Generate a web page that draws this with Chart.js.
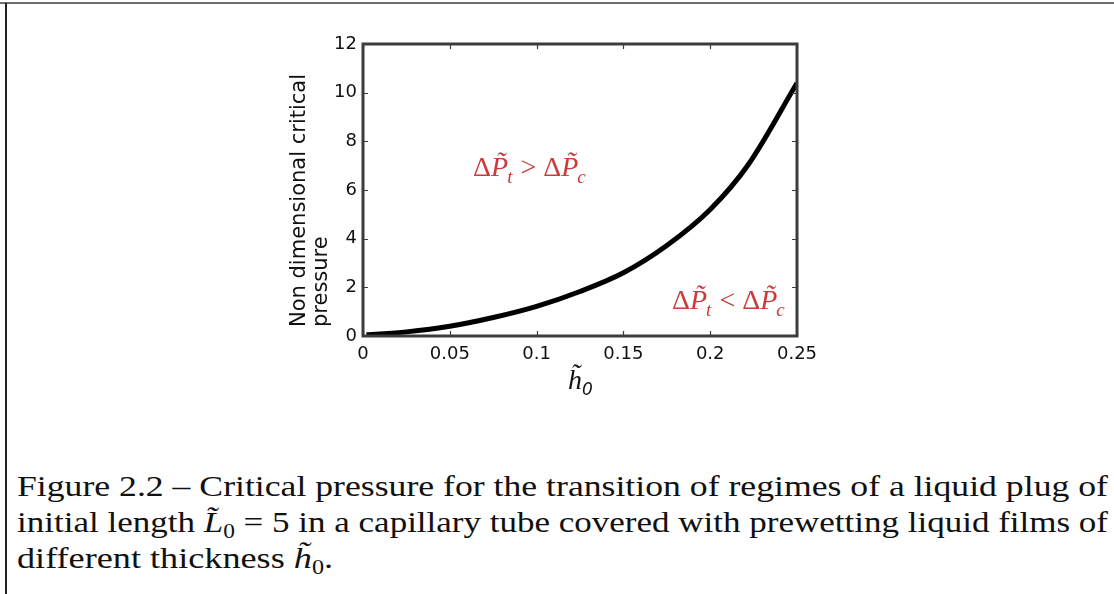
<!DOCTYPE html>
<html>
<head>
<meta charset="utf-8">
<script src="https://cdn.jsdelivr.net/npm/chart.js@4.4.1/dist/chart.umd.min.js"></script>
<style>
  html, body { margin: 0; padding: 0; background: #fff; }
  #page { position: relative; width: 1114px; height: 594px; overflow: hidden; }
  #topline { position: absolute; left: 0; top: 2px; width: 1114px; height: 2px; background: #6e6e6e; }
  #leftline { position: absolute; left: 5px; top: 3px; width: 2px; height: 600px; background: #222; }
  #chartBox { position: absolute; left: 0; top: 0; width: 1114px; height: 440px; }
  .cap { position: absolute; left: 17px; white-space: nowrap; transform-origin: 0 0;
         font-family: "Liberation Serif", serif; font-size: 30px; color: #111; }
  .cap i { font-style: italic; }
  .cap sub { font-size: 20px; vertical-align: -6px; line-height: 0; }
</style>
</head>
<body>
<div id="page">
  <div id="topline"></div>
  <div id="leftline"></div>
  <div id="chartBox"><canvas id="pressureChart" width="1114" height="440"></canvas></div>
  <div class="cap" id="cap1" style="top:469px">Figure 2.2 – Critical pressure for the transition of regimes of a liquid plug of</div>
  <div class="cap" id="cap2" style="top:505px">initial length <i>L&#771;</i><sub>0</sub> = 5 in a capillary tube covered with prewetting liquid films of</div>
  <div class="cap" id="cap3" style="top:541px">different thickness <i>h&#771;</i><sub>0</sub>.</div>
</div>
<script>
// --- DATA ---
const hValues = [0.002, 0.025, 0.05, 0.075, 0.1, 0.125, 0.15, 0.175, 0.2, 0.222, 0.25];
const pValues = [0.05, 0.17, 0.40, 0.76, 1.22, 1.83, 2.6, 3.72, 5.2, 7.05, 10.4];
const xTickLabels = ["0", "0.05", "0.1", "0.15", "0.2", "0.25"];
const yTickLabels = ["0", "2", "4", "6", "8", "10", "12"];
const yTitleLines = ["Non dimensional critical", "pressure"];
// annotation anchors (left edge, baseline) in data units
const regionUpper = { h: 0.0634, p: 6.58, op: ">" };
const regionLower = { h: 0.178, p: 1.11, op: "<" };

const RED = "#cc3b3b";
const FRAME = "#3c3c3c";

// draw a row of text runs
function drawRuns(ctx, x, y, runs) {
  let cx = x;
  runs.forEach((r) => {
    ctx.font = r.font;
    ctx.fillText(r.text, cx, y + (r.dy || 0));
    cx += ctx.measureText(r.text).width + (r.gap || 0);
  });
}

function regionRuns(op) {
  const big = "28px 'Liberation Serif', serif";
  const it = "italic 28px 'Liberation Serif', serif";
  const sub = "italic 19px 'Liberation Serif', serif";
  return [
    { text: "\u0394", font: big },
    { text: "P\u0303", font: it, gap: -1 },
    { text: "t", font: sub, dy: 7, gap: 8 },
    { text: op, font: big, gap: 7 },
    { text: "\u0394", font: big },
    { text: "P\u0303", font: it, gap: -1 },
    { text: "c", font: sub, dy: 7 },
  ];
}

const frameAndText = {
  id: "frameAndText",
  afterDatasetsDraw(chart) {
    const { ctx, chartArea: a, scales } = chart;
    const xs = scales.x, ys = scales.y;
    ctx.save();
    // inward ticks on all four sides
    ctx.strokeStyle = FRAME;
    ctx.lineWidth = 1.2;
    ctx.beginPath();
    xs.ticks.forEach((t) => {
      const px = Math.round(xs.getPixelForValue(t.value)) + 0.5;
      ctx.moveTo(px, a.bottom); ctx.lineTo(px, a.bottom - 5);
      ctx.moveTo(px, a.top); ctx.lineTo(px, a.top + 5);
    });
    ys.ticks.forEach((t) => {
      const py = Math.round(ys.getPixelForValue(t.value)) + 0.5;
      ctx.moveTo(a.left, py); ctx.lineTo(a.left + 5, py);
      ctx.moveTo(a.right, py); ctx.lineTo(a.right - 5, py);
    });
    ctx.stroke();
    // axes box
    ctx.lineWidth = 3;
    ctx.strokeRect(a.left, a.top, a.right - a.left, a.bottom - a.top);

    // y title, two lines, left aligned along the axis
    ctx.fillStyle = "#111";
    ctx.save();
    ctx.translate(305, ys.getPixelForValue(0) - 9);
    ctx.rotate(-Math.PI / 2);
    ctx.font = "21px 'DejaVu Sans', sans-serif";
    ctx.textAlign = "left";
    ctx.textBaseline = "alphabetic";
    ctx.fillText(yTitleLines[0], 0, 0);
    ctx.fillText(yTitleLines[1], 0, 22);
    ctx.restore();

    // x title h~0
    const cx = (a.left + a.right) / 2;
    ctx.textAlign = "left";
    ctx.font = "italic 28px 'Liberation Serif', serif";
    ctx.fillText("h\u0303", cx - 12, 389);
    ctx.font = "italic 17px 'DejaVu Sans', sans-serif";
    ctx.fillText("0", cx + 2, 395);

    // region labels
    ctx.fillStyle = RED;
    [regionUpper, regionLower].forEach((r) => {
      drawRuns(ctx, xs.getPixelForValue(r.h), ys.getPixelForValue(r.p), regionRuns(r.op));
    });
    ctx.restore();
  },
};

const ctx = document.getElementById("pressureChart").getContext("2d");
new Chart(ctx, {
  type: "line",
  data: {
    datasets: [
      {
        data: hValues.map((h, i) => ({ x: h, y: pValues[i] })),
        borderColor: "#000",
        borderWidth: 5,
        pointRadius: 0,
        cubicInterpolationMode: "monotone",
        fill: false,
      },
    ],
  },
  options: {
    responsive: false,
    animation: false,
    layout: { padding: { left: 0, right: 317, top: 44, bottom: 0 } },
    plugins: { legend: { display: false }, tooltip: { enabled: false } },
    scales: {
      x: {
        type: "linear",
        min: 0,
        max: 0.25,
        afterFit: (s) => { s.height = 104; },
        border: { display: false },
        grid: { display: false, drawTicks: false },
        ticks: {
          stepSize: 0.05,
          padding: 8,
          maxRotation: 0,
          color: "#111",
          font: { family: "DejaVu Sans", size: 18 },
          callback: (v, i) => xTickLabels[i],
        },
      },
      y: {
        min: 0,
        max: 12,
        afterFit: (s) => { s.width = 363; },
        border: { display: false },
        grid: { display: false, drawTicks: false },
        ticks: {
          stepSize: 2,
          padding: 6,
          color: "#111",
          font: { family: "DejaVu Sans", size: 18 },
          callback: (v, i) => yTickLabels[i],
        },
      },
    },
  },
  plugins: [frameAndText],
});

// fit caption lines to the text block width
const capWidths = { cap1: 1091, cap2: 1091, cap3: 316 };
Object.keys(capWidths).forEach((id) => {
  const el = document.getElementById(id);
  const w = el.getBoundingClientRect().width;
  el.style.transform = "scaleX(" + (capWidths[id] / w).toFixed(4) + ")";
});
</script>
</body>
</html>
